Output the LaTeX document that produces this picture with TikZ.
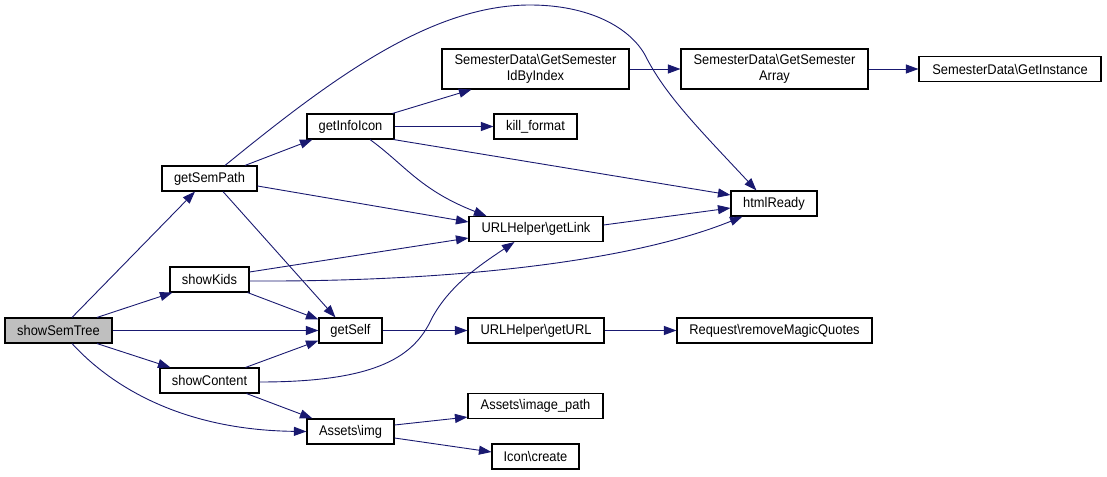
\documentclass[tikz,border=0pt]{standalone}
\usepackage{fontspec}
\setmainfont[FakeStretch=0.92]{Liberation Sans}
\usetikzlibrary{arrows.meta}
\definecolor{edgeblue}{RGB}{25,25,112}
\definecolor{rootgray}{RGB}{191,191,191}
\tikzset{
  box/.style={draw=black, line width=1.1pt, fill=white, rectangle, inner sep=0pt,
    minimum height=25pt, align=center, font=\fontsize{14}{16}\selectfont},
  tallbox/.style={box, minimum height=40pt},
  edge/.style={draw=edgeblue, line width=0.9pt, -{Triangle[length=12.5pt,width=9pt]}},
}
\begin{document}
\begin{tikzpicture}[x=1pt,y=-1pt]
\useasboundingbox (0,0) rectangle (1107,476);
% nodes
\node[box, fill=rootgray, minimum width=107pt] (sst) at (58.5,330.5) {showSemTree};
\node[box, minimum width=95pt] (gsp) at (209.5,178.5) {getSemPath};
\node[box, minimum width=79pt] (sk) at (209.5,279.5) {showKids};
\node[box, minimum width=99pt] (sc) at (209.5,380.5) {showContent};
\node[box, minimum width=87pt] (gii) at (350.5,126.5) {getInfoIcon};
\node[box, minimum width=63pt] (gs) at (350.5,330.5) {getSelf};
\node[box, minimum width=87pt] (ai) at (350.5,431.5) {Assets\textbackslash img};
\node[tallbox, minimum width=187pt] (gsibi) at (535.5,69) {SemesterData\textbackslash GetSemester\\IdByIndex};
\node[box, minimum width=83pt] (kf) at (535.5,126.5) {kill\_format};
\node[box, minimum width=134pt] (gl) at (536,229) {URLHelper\textbackslash getLink};
\node[box, minimum width=136pt] (gu) at (536,330.5) {URLHelper\textbackslash getURL};
\node[box, minimum width=135pt] (aip) at (535.5,406) {Assets\textbackslash image\_path};
\node[box, minimum width=87pt] (ic) at (535.5,456.5) {Icon\textbackslash create};
\node[tallbox, minimum width=187pt] (gsa) at (774.5,69) {SemesterData\textbackslash GetSemester\\Array};
\node[box, minimum width=86pt] (hr) at (774,203.5) {htmlReady};
\node[box, minimum width=195pt] (rmq) at (774.5,330.5) {Request\textbackslash removeMagicQuotes};
\node[box, minimum width=182pt] (gi) at (1010,69) {SemesterData\textbackslash GetInstance};
% edges
\draw[edge] ([xshift=13.5pt]sst.north) -- ([xshift=-14.5pt]gsp.south);
\draw[edge] ([xshift=38.5pt]sst.north) -- ([xshift=3pt]sk.south west);
\draw[edge] (sst.east) -- (gs.west);
\draw[edge] ([xshift=38.5pt]sst.south) -- ([xshift=11pt]sc.north west);
\draw[edge] ([xshift=13.5pt]sst.south) .. controls (110,385) and (180,430) .. (ai.west);
\draw[edge] ([xshift=35.5pt]gsp.north) -- ([xshift=6pt]gii.south west);
\draw[edge] ([xshift=15.5pt]gsp.north) .. controls (330,80) and (430,5) .. (530,5)
  .. controls (590,5) and (630,28) .. (645,55)
  .. controls (665,95) and (700,130) .. ([xshift=26pt]hr.north west);
\draw[edge] ([yshift=-7.5pt]gsp.east) -- ([yshift=7pt]gl.west);
\draw[edge] ([xshift=13.5pt]gsp.south) -- ([xshift=-15pt]gs.north);
\draw[edge] ([xshift=-2pt]gii.north east) -- ([xshift=30pt]gsibi.south west);
\draw[edge] (gii.east) -- (kf.west);
\draw[edge] ([xshift=-1pt]gii.south east) -- ([yshift=8.5pt]hr.west);
\draw[edge] ([xshift=19.5pt]gii.south) .. controls (405,165) and (420,190) .. ([xshift=18pt]gl.north west);
\draw[edge] ([yshift=4pt]gl.east) -- ([yshift=-4.5pt]hr.west);
\draw[edge] ([yshift=7.5pt]sk.east) -- ([yshift=-9pt]gl.west);
\draw[edge] ([yshift=-1.5pt]sk.east) .. controls (450,282) and (630,262) .. ([xshift=12pt]hr.south west);
\draw[edge] ([xshift=-2pt]sk.south east) -- ([yshift=-2pt]gs.north west);
\draw[edge] ([xshift=-14pt]sc.north east) -- ([yshift=3pt]gs.south west);
\draw[edge] ([yshift=-1.5pt]sc.east) .. controls (380,382) and (415,355) .. (432,318)
  .. controls (450,285) and (480,265) .. ([xshift=46pt]gl.south west);
\draw[edge] ([xshift=-13pt]sc.south east) -- ([xshift=6pt]ai.north west);
\draw[edge] (gs.east) -- (gu.west);
\draw[edge] (gu.east) -- (rmq.west);
\draw[edge] ([yshift=6.5pt]ai.east) -- ([yshift=2pt]aip.south west);
\draw[edge] ([yshift=-6.5pt]ai.east) -- ([yshift=4.5pt]ic.west);
\draw[edge] (gsibi.east) -- (gsa.west);
\draw[edge] (gsa.east) -- (gi.west);
\end{tikzpicture}
\end{document}
